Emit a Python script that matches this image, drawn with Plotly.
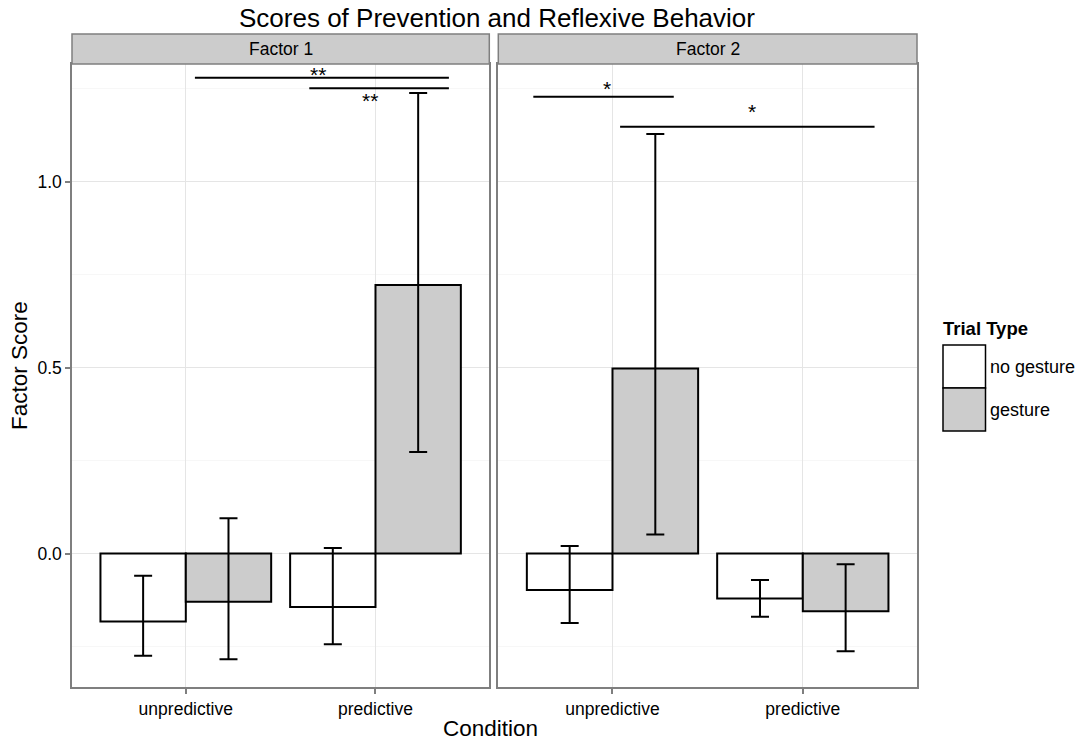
import plotly.graph_objects as go

# ---------------- data ----------------
conditions = ["unpredictive", "predictive"]
cond_pos = [1, 2]
trial_types = ["no gesture", "gesture"]
facets = ["Factor 1", "Factor 2"]

# bar means per facet: [unpredictive, predictive]
f1_no_gesture = [-0.183, -0.144]
f1_gesture = [-0.130, 0.722]
f2_no_gesture = [-0.098, -0.121]
f2_gesture = [0.497, -0.155]

# error bar limits (lower, upper)
f1_no_gesture_lo = [-0.275, -0.244]
f1_no_gesture_hi = [-0.060, 0.015]
f1_gesture_lo = [-0.284, 0.273]
f1_gesture_hi = [0.095, 1.238]
f2_no_gesture_lo = [-0.187, -0.170]
f2_no_gesture_hi = [0.020, -0.071]
f2_gesture_lo = [0.051, -0.263]
f2_gesture_hi = [1.128, -0.029]

# significance brackets
f1_sig_x0 = [1.048, 1.651]
f1_sig_x1 = [2.387, 2.387]
f1_sig_y = [1.279, 1.2505]
f1_sig_label = ["**", "**"]
f1_sig_label_x = [1.697, 1.971]
f1_sig_label_y = [1.2925, 1.222]

f2_sig_x0 = [0.584, 1.040]
f2_sig_x1 = [1.322, 2.377]
f2_sig_y = [1.228, 1.147]
f2_sig_label = ["*", "*"]
f2_sig_label_x = [0.9715, 1.735]
f2_sig_label_y = [1.255, 1.193]

y_major = [0.0, 0.5, 1.0]
y_major_text = ["0.0", "0.5", "1.0"]
y_minor = [-0.25, 0.25, 0.75, 1.25]

fill_colors = ["#ffffff", "#cccccc"]

# ---------------- layout geometry ----------------
W, H = 1082, 740
ML, MR, MT, MB = 72, 165, 64, 53
PW = W - ML - MR
PH = H - MT - MB
FONT = "Liberation Sans, Arial, Helvetica, sans-serif"
GREY50 = "#7f7f7f"


def px_x(px):
    return (px - ML) / PW


def px_y(py):
    return (H - MB - py) / PH


fig = go.Figure()

panels = [
    ("x", "y", f1_no_gesture, f1_gesture, f1_no_gesture_lo, f1_no_gesture_hi, f1_gesture_lo, f1_gesture_hi),
    ("x2", "y2", f2_no_gesture, f2_gesture, f2_no_gesture_lo, f2_no_gesture_hi, f2_gesture_lo, f2_gesture_hi),
]

for xa, ya, ng, g, nglo, nghi, glo, ghi in panels:
    for name, vals, lo, hi, col in [
        (trial_types[0], ng, nglo, nghi, fill_colors[0]),
        (trial_types[1], g, glo, ghi, fill_colors[1]),
    ]:
        fig.add_trace(go.Bar(
            x=cond_pos, y=vals, name=name, xaxis=xa, yaxis=ya,
            marker=dict(color=col, line=dict(color="black", width=2)),
            error_y=dict(type="data", symmetric=False,
                         array=[h - v for h, v in zip(hi, vals)],
                         arrayminus=[v - l for v, l in zip(vals, lo)],
                         color="black", thickness=2, width=9),
            showlegend=False,
        ))

shapes = []
annotations = []

# significance brackets
for xr, yr, x0s, x1s, ys, labs, lxs, lys in [
    ("x", "y", f1_sig_x0, f1_sig_x1, f1_sig_y, f1_sig_label, f1_sig_label_x, f1_sig_label_y),
    ("x2", "y2", f2_sig_x0, f2_sig_x1, f2_sig_y, f2_sig_label, f2_sig_label_x, f2_sig_label_y),
]:
    for x0, x1, yy in zip(x0s, x1s, ys):
        shapes.append(dict(type="line", xref=xr, yref=yr, x0=x0, x1=x1, y0=yy, y1=yy,
                           line=dict(color="black", width=2)))
    for lab, lx, ly in zip(labs, lxs, lys):
        annotations.append(dict(xref=xr, yref=yr, x=lx, y=ly, text=lab, showarrow=False,
                                font=dict(family=FONT, size=21, color="black"),
                                xanchor="center", yanchor="middle", yshift=-2))

# strips
dom1 = [0.0, px_x(489.3)]
dom2 = [px_x(498.3), 1.0]
strip_h = 30 / PH
for dom, lab in zip([dom1, dom2], facets):
    shapes.append(dict(type="rect", xref="paper", yref="paper", x0=dom[0], x1=dom[1],
                       y0=1.0, y1=1.0 + strip_h, fillcolor="#cccccc",
                       line=dict(color=GREY50, width=1.5), layer="above"))
    annotations.append(dict(xref="paper", yref="paper", x=(dom[0] + dom[1]) / 2,
                            y=1.0 + strip_h / 2, text=lab, showarrow=False,
                            font=dict(family=FONT, size=17.5, color="black"),
                            xanchor="center", yanchor="middle"))

# custom legend
annotations.append(dict(xref="paper", yref="paper", x=px_x(941), y=px_y(328), text="<b>Trial Type</b>",
                        showarrow=False, xanchor="left", yanchor="middle",
                        font=dict(family=FONT, size=18.5, color="black")))
key_tops = [345, 388]
key_h = 43
for kt, col, lab in zip(key_tops, fill_colors, trial_types):
    shapes.append(dict(type="rect", xref="paper", yref="paper",
                       x0=px_x(943), x1=px_x(985.5), y0=px_y(kt + key_h), y1=px_y(kt),
                       fillcolor=col, line=dict(color="black", width=1.5)))
    annotations.append(dict(xref="paper", yref="paper", x=px_x(988), y=px_y(kt + key_h / 2),
                            text=lab, showarrow=False, xanchor="left", yanchor="middle",
                            font=dict(family=FONT, size=18, color="black")))

# titles
annotations.append(dict(xref="paper", yref="paper", x=px_x(497), y=px_y(18), text="Scores of Prevention and Reflexive Behavior",
                        showarrow=False, xanchor="center", yanchor="middle",
                        font=dict(family=FONT, size=26, color="black")))
annotations.append(dict(xref="paper", yref="paper", x=px_x(490), y=px_y(728), text="Condition",
                        showarrow=False, xanchor="center", yanchor="middle",
                        font=dict(family=FONT, size=22.5, color="black")))
annotations.append(dict(xref="paper", yref="paper", x=px_x(20), y=px_y(366), text="Factor Score",
                        showarrow=False, xanchor="center", yanchor="middle", textangle=-90,
                        font=dict(family=FONT, size=22.5, color="black")))

yrange = [(553.5 - 687) / 372, (553.5 - 64) / 372]

xaxis_common = dict(range=[0.4, 2.6], tickvals=cond_pos, ticktext=conditions,
                    showgrid=True, gridcolor="#e5e5e5", gridwidth=1,
                    showline=True, linecolor=GREY50, linewidth=1.5, mirror=True,
                    ticks="outside", ticklen=5, tickcolor=GREY50, tickwidth=1.5,
                    zeroline=False, fixedrange=True,
                    tickfont=dict(family=FONT, size=17.5, color="black"))
yaxis_common = dict(range=yrange, tickvals=y_major, ticktext=y_major_text,
                    showgrid=True, gridcolor="#e5e5e5", gridwidth=1,
                    minor=dict(tickvals=y_minor, showgrid=True, gridcolor="#f7f7f7", gridwidth=1, ticks=""),
                    showline=True, linecolor=GREY50, linewidth=1.5, mirror=True,
                    zeroline=False, fixedrange=True,
                    tickfont=dict(family=FONT, size=17.5, color="black"))

fig.update_layout(
    width=W, height=H,
    margin=dict(l=ML, r=MR, t=MT, b=MB, pad=0),
    paper_bgcolor="white", plot_bgcolor="white",
    barmode="group", bargap=0.1, bargroupgap=0.0,
    showlegend=False,
    xaxis=dict(domain=dom1, anchor="y", **xaxis_common),
    xaxis2=dict(domain=dom2, anchor="y2", **xaxis_common),
    yaxis=dict(domain=[0, 1], anchor="x", ticks="outside", ticklen=5, tickcolor=GREY50, tickwidth=1.5,
               **yaxis_common),
    yaxis2=dict(domain=[0, 1], anchor="x2", showticklabels=False, ticks="", **yaxis_common),
    shapes=shapes,
    annotations=annotations,
)

fig.write_html("out.html")
